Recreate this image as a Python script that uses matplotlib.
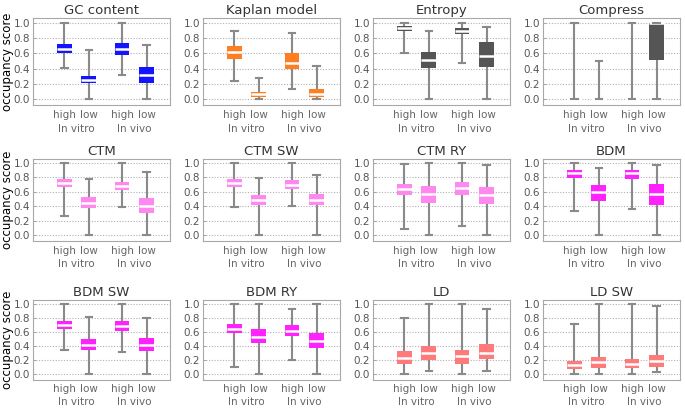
import matplotlib
matplotlib.use("Agg")
import matplotlib.pyplot as plt
import matplotlib.transforms as mtransforms

# each box: whisker low, q1, median, q3, whisker high
# order: in vitro high, in vitro low, in vivo high, in vivo low
gc_content = [[0.41, 0.60, 0.66, 0.73, 1.00], [0.00, 0.205, 0.25, 0.30, 0.64],
              [0.31, 0.585, 0.66, 0.74, 1.00], [0.00, 0.205, 0.31, 0.415, 0.71]]
kaplan = [[0.235, 0.52, 0.62, 0.70, 0.90], [0.00, 0.031, 0.062, 0.093, 0.27],
          [0.13, 0.40, 0.48, 0.61, 0.87], [0.00, 0.03, 0.06, 0.13, 0.44]]
entropy = [[0.60, 0.89, 0.93, 0.96, 1.00], [0.00, 0.405, 0.51, 0.62, 0.89],
           [0.48, 0.85, 0.89, 0.93, 1.00], [0.00, 0.415, 0.57, 0.75, 0.95]]
compress = [[0.00, 0.00, 0.00, 0.00, 1.00], [0.00, 0.00, 0.00, 0.00, 0.50],
            [0.00, 0.00, 0.00, 0.00, 1.00], [0.00, 0.51, 1.00, 1.00, 1.00]]
ctm = [[0.26, 0.67, 0.725, 0.78, 1.00], [0.00, 0.37, 0.45, 0.53, 0.78],
       [0.39, 0.63, 0.685, 0.74, 1.00], [0.00, 0.30, 0.40, 0.51, 0.87]]
ctm_sw = [[0.385, 0.67, 0.72, 0.775, 1.00], [0.00, 0.42, 0.48, 0.55, 0.79],
          [0.40, 0.64, 0.70, 0.76, 1.00], [0.00, 0.41, 0.48, 0.57, 0.84]]
ctm_ry = [[0.09, 0.55, 0.64, 0.71, 0.98], [0.00, 0.44, 0.575, 0.675, 1.00],
          [0.13, 0.56, 0.655, 0.74, 1.00], [0.00, 0.43, 0.56, 0.665, 0.97]]
bdm = [[0.34, 0.79, 0.855, 0.905, 1.00], [0.00, 0.476, 0.595, 0.70, 0.925],
       [0.355, 0.78, 0.855, 0.905, 1.00], [0.00, 0.42, 0.575, 0.71, 0.97]]
bdm_sw = [[0.345, 0.64, 0.70, 0.76, 1.00], [0.00, 0.345, 0.415, 0.495, 0.815],
          [0.31, 0.613, 0.685, 0.755, 1.00], [0.00, 0.33, 0.415, 0.51, 0.80]]
bdm_ry = [[0.094, 0.58, 0.65, 0.72, 1.00], [0.00, 0.44, 0.533, 0.637, 1.00],
          [0.20, 0.54, 0.62, 0.70, 0.934], [0.00, 0.37, 0.476, 0.58, 1.00]]
ld = [[0.00, 0.142, 0.234, 0.335, 0.80], [0.037, 0.20, 0.30, 0.40, 1.00],
      [0.00, 0.142, 0.26, 0.35, 1.00], [0.037, 0.22, 0.295, 0.43, 0.93]]
ld_sw = [[0.00, 0.075, 0.13, 0.19, 0.72], [0.00, 0.09, 0.175, 0.25, 1.00],
         [0.00, 0.09, 0.15, 0.214, 1.00], [0.025, 0.10, 0.185, 0.27, 0.97]]

panels = [gc_content, kaplan, entropy, compress,
          ctm, ctm_sw, ctm_ry, bdm,
          bdm_sw, bdm_ry, ld, ld_sw]
titles = ["GC content", "Kaplan model", "Entropy", "Compress",
          "CTM", "CTM SW", "CTM RY", "BDM",
          "BDM SW", "BDM RY", "LD", "LD SW"]
colors = ["#1414ff", "#ff7f20", "#555555", "#555555",
          "#ff88f0", "#ff88f0", "#ff88f0", "#ff22ff",
          "#ff22ff", "#ff22ff", "#ff7a7a", "#ff7a7a"]
box_labels = ["high", "low", "high", "low"]
groups = ["In vitro", "In vivo"]
yticks = [0.0, 0.2, 0.4, 0.6, 0.8, 1.0]

W, H = 685, 411
fig = plt.figure(figsize=(W / 100, H / 100), dpi=100)

col_left = [33, 203, 373, 543]
col_w = 137
# (y of 1.0, y of 0.0) in pixels per row
row_ticks = [(23, 99), (163, 235), (304, 374)]
ylo, yhi = -0.08, 1.06
pos = [1, 2, 3.35, 4.35]

for i, data in enumerate(panels):
    r, c = divmod(i, 4)
    y1, y0 = row_ticks[r]
    unit = y0 - y1
    top = y1 - (yhi - 1) * unit
    bot = y0 - ylo * unit
    ax = fig.add_axes([col_left[c] / W, 1 - bot / H, col_w / W, (bot - top) / H])

    stats = [dict(whislo=d[0], q1=d[1], med=d[2], q3=d[3], whishi=d[4], fliers=[])
             for d in data]
    ax.bxp(stats, positions=pos, widths=0.6, patch_artist=True, showfliers=False,
           boxprops=dict(facecolor=colors[i], edgecolor=colors[i], lw=0, zorder=3),
           medianprops=dict(color="white", lw=1.8, zorder=3),
           whiskerprops=dict(color="#8a8a8a", lw=1.5, zorder=2),
           capprops=dict(color="#8a8a8a", lw=1.5, zorder=4),
           capwidths=0.27)

    ax.set_xlim(-0.27, 5.3)
    ax.set_ylim(ylo, yhi)
    ax.set_yticks(yticks)
    ax.set_yticklabels(["%.1f" % t for t in yticks])
    ax.set_xticks([])
    for t in yticks:
        ax.axhline(t, color="#b0b0b0", lw=0.8, ls=(0, (1, 1.5)), zorder=1)
    ax.tick_params(axis="y", direction="in", length=2, width=0.6, color="#999999",
                   labelsize=7.5, labelcolor="#555555", pad=2)
    for s in ax.spines.values():
        s.set_color("#a8a8a8")
        s.set_linewidth(0.8)
    ax.set_title(titles[i], fontsize=9.5, color="#333333", pad=3)

    trans = mtransforms.blended_transform_factory(ax.transData, ax.transAxes)
    for p, lab in zip(pos, box_labels):
        ax.text(p, -0.06, lab, transform=trans, ha="center", va="top",
                fontsize=7.5, color="#666666")
    ax.text((pos[0] + pos[1]) / 2, -0.22, groups[0], transform=trans, ha="center",
            va="top", fontsize=7.5, color="#666666")
    ax.text((pos[2] + pos[3]) / 2, -0.22, groups[1], transform=trans, ha="center",
            va="top", fontsize=7.5, color="#666666")

    if c == 0:
        fig.text(8 / W, 1 - ((top + bot) / 2) / H, "occupancy score", rotation=90,
                 ha="center", va="center", fontsize=8.5)

fig.savefig("out.png", dpi=100)
